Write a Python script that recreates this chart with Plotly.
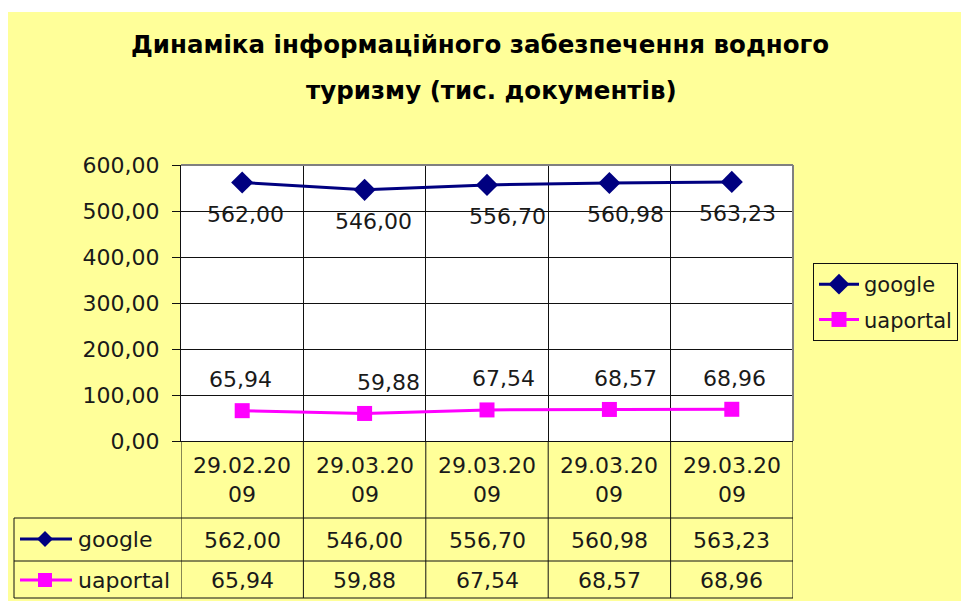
import plotly.graph_objects as go

# ---- data ----
categories = ["29.02.2009", "29.03.2009", "29.03.2009", "29.03.2009", "29.03.2009"]
google = [562.00, 546.00, 556.70, 560.98, 563.23]
uaportal = [65.94, 59.88, 67.54, 68.57, 68.96]
y_ticks = [0, 100, 200, 300, 400, 500, 600]
series_names = ["google", "uaportal"]
title_lines = ["Динаміка інформаційного забезпечення водного", "туризму (тис. документів)"]

# ---- style ----
W, H = 969, 601
OFF = 8  # page body offset
YELLOW = "#FFFF99"
C_G = "#000080"
C_U = "#FF00FF"
FONT = "DejaVu Sans, Arial, sans-serif"
TXT = "#1a1a1a"
FS = 22
google_dx = [3, 9, 20, 16, 6]
ua_dx = [-2, 24, 16, 16, 3]


def px(x):
    return (x - OFF) / W


def py(y):
    return 1 - (y - OFF) / H


def fmt(v):
    return f"{v:.2f}".replace(".", ",")


def wrap_date(s):
    return s[:8] + "<br>" + s[8:]


xs = list(range(len(categories)))

fig = go.Figure()
fig.add_trace(go.Scatter(x=xs, y=google, name=series_names[0], mode="lines+markers",
                         legendgroup="g",
                         line=dict(color=C_G, width=3),
                         marker=dict(symbol="diamond", size=17, color=C_G),
                         cliponaxis=False))
fig.add_trace(go.Scatter(x=xs, y=uaportal, name=series_names[1], mode="lines+markers",
                         legendgroup="u",
                         line=dict(color=C_U, width=3),
                         marker=dict(symbol="square", size=15, color=C_U),
                         cliponaxis=False))

ann = []
# title
ann.append(dict(x=px(480), y=py(45), xref="paper", yref="paper", text="<b>" + title_lines[0] + "</b>",
                showarrow=False, font=dict(family=FONT, size=24.5, color="#000"), xanchor="center", yanchor="middle"))
ann.append(dict(x=px(491), y=py(90), xref="paper", yref="paper", text="<b>" + title_lines[1] + "</b>",
                showarrow=False, font=dict(family=FONT, size=24.5, color="#000"), xanchor="center", yanchor="middle"))

# data labels
for i, v in enumerate(google):
    ann.append(dict(x=i, y=v, xref="x", yref="y", text=fmt(v), showarrow=False,
                    yshift=-32, xshift=google_dx[i], font=dict(family=FONT, size=FS, color=TXT)))
for i, v in enumerate(uaportal):
    ann.append(dict(x=i, y=v, xref="x", yref="y", text=fmt(v), showarrow=False,
                    yshift=31, xshift=ua_dx[i], font=dict(family=FONT, size=FS, color=TXT)))

# data table text
for i, c in enumerate(categories):
    ann.append(dict(x=i, y=py(480), xref="x", yref="paper", text=wrap_date(c), showarrow=False,
                    font=dict(family=FONT, size=FS, color=TXT), yanchor="middle"))
    ann.append(dict(x=i, y=py(540), xref="x", yref="paper", text=fmt(google[i]), showarrow=False,
                    font=dict(family=FONT, size=FS, color=TXT), yanchor="middle"))
    ann.append(dict(x=i, y=py(580), xref="x", yref="paper", text=fmt(uaportal[i]), showarrow=False,
                    font=dict(family=FONT, size=FS, color=TXT), yanchor="middle"))
# table key labels
for name, yy in zip(series_names, [539, 580]):
    ann.append(dict(x=px(76), y=py(yy), xref="paper", yref="paper", text=name, showarrow=False,
                    xanchor="left", yanchor="middle", font=dict(family=FONT, size=FS, color=TXT)))

shapes = []
# white strip at the top of the chart area
shapes.append(dict(type="rect", xref="paper", yref="paper", x0=0, x1=1, y0=py(12), y1=1,
                   fillcolor="white", line=dict(width=0)))
# plot area top / right border (gray)
shapes.append(dict(type="line", xref="paper", yref="paper", x0=px(181), x1=px(793), y0=py(165), y1=py(165),
                   line=dict(color="#808080", width=2)))
shapes.append(dict(type="line", xref="paper", yref="paper", x0=px(793), x1=px(793), y0=py(165), y1=py(441),
                   line=dict(color="#808080", width=2)))
# table vertical lines
for i in range(len(categories) + 1):
    shapes.append(dict(type="line", xref="x", yref="paper", x0=i - 0.5, x1=i - 0.5, y0=py(441), y1=py(598),
                       line=dict(color="#111", width=1)))
# table horizontal lines
for yy in [518, 561, 598]:
    shapes.append(dict(type="line", xref="paper", yref="paper", x0=px(14), x1=px(793), y0=py(yy), y1=py(yy),
                       line=dict(color="#111", width=1)))
shapes.append(dict(type="line", xref="paper", yref="paper", x0=px(14), x1=px(14), y0=py(518), y1=py(598),
                   line=dict(color="#111", width=1)))
# table key symbols
for col, yy in [(C_G, 539), (C_U, 580)]:
    shapes.append(dict(type="line", xref="paper", yref="paper", x0=px(20), x1=px(72), y0=py(yy), y1=py(yy),
                       line=dict(color=col, width=3)))
d = 8
shapes.append(dict(type="path", xref="paper", yref="paper",
                   path=f"M {px(45-d)},{py(539)} L {px(45)},{py(539-d)} L {px(45+d)},{py(539)} L {px(45)},{py(539+d)} Z",
                   fillcolor=C_G, line=dict(color=C_G, width=0)))
s = 7
shapes.append(dict(type="rect", xref="paper", yref="paper", x0=px(45-s), x1=px(45+s), y0=py(580+s), y1=py(580-s),
                   fillcolor=C_U, line=dict(color=C_U, width=0)))

fig.update_layout(
    width=W, height=H, autosize=False,
    margin=dict(l=0, r=0, t=0, b=0, autoexpand=False),
    paper_bgcolor=YELLOW, plot_bgcolor="white",
    font=dict(family=FONT, color=TXT),
    xaxis=dict(domain=[px(181), px(793)], range=[-0.5, len(categories) - 0.5],
               tickvals=[i + 0.5 for i in range(len(categories) - 1)], showticklabels=False,
               showgrid=True, gridcolor="#111", gridwidth=1, ticks="", zeroline=False,
               showline=True, linecolor="#111", linewidth=1, fixedrange=True, automargin=False),
    yaxis=dict(domain=[py(441), py(165)], range=[0, 600], tickvals=y_ticks,
               ticktext=[fmt(v) for v in y_ticks], ticks="outside", ticklen=8, tickcolor="#111",
               showgrid=True, gridcolor="#111", gridwidth=1, zeroline=False,
               showline=True, linecolor="#111", linewidth=1, ticklabelstandoff=8,
               tickfont=dict(family=FONT, size=FS, color=TXT), fixedrange=True, automargin=False),
    legend=dict(x=px(813), y=py(263), xanchor="left", yanchor="top",
                bgcolor=YELLOW, bordercolor="#111", borderwidth=1,
                font=dict(family=FONT, size=21, color=TXT), itemwidth=40,
                tracegroupgap=5),
    annotations=ann,
    shapes=shapes,
    showlegend=True,
)

fig.write_html("out.html")
